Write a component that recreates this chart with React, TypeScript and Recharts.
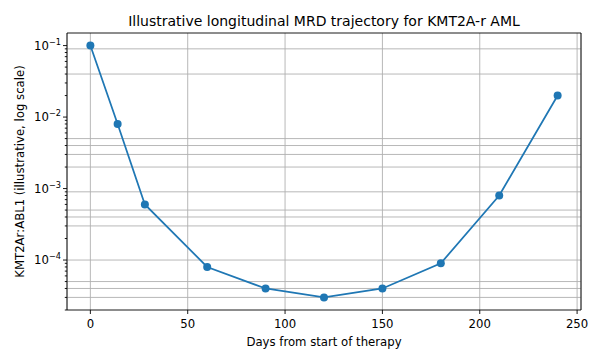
import React from "react";
import {
  LineChart,
  Line,
  XAxis,
  YAxis,
  CartesianGrid,
  ReferenceLine,
  Label,
} from "recharts";

const days = [0, 14, 28, 60, 90, 120, 150, 180, 210, 240];
const mrdValues = [0.1, 0.008, 0.0006, 0.00008, 0.00004, 0.00003, 0.00004, 0.00009, 0.0008, 0.02];
const xTicks = [0, 50, 100, 150, 200, 250];
const yMajorTicks = [0.0001, 0.001, 0.01, 0.1];
const yMinorTicks = [
  0.00002, 0.00003, 0.00004, 0.00005, 0.00006, 0.00007, 0.00008, 0.00009,
  0.0002, 0.0003, 0.0004, 0.0005, 0.0006, 0.0007, 0.0008, 0.0009,
  0.002, 0.003, 0.004, 0.005, 0.006, 0.007, 0.008, 0.009,
  0.02, 0.03, 0.04, 0.05, 0.06, 0.07, 0.08, 0.09,
];
const yGridValues = [
  0.09, 0.04, 0.005, 0.004, 0.003, 0.002, 0.0009, 0.0005, 0.0004, 0.0003,
  0.0001, 0.00005, 0.00004, 0.00003,
];
const xDomain = [-12, 252];
const yDomain = [0.00002, 0.15];

const title = "Illustrative longitudinal MRD trajectory for KMT2A-r AML";
const xLabel = "Days from start of therapy";
const yLabel = "KMT2Ar:ABL1 (illustrative, log scale)";

const data = days.map((d, i) => ({ day: d, mrd: mrdValues[i] }));
const allYTicks = [...yMajorTicks, ...yMinorTicks].sort((a, b) => a - b);

const FONT = "'DejaVu Sans', sans-serif";
const BLUE = "#1f77b4";
const GRID = "#b0b0b0";
const CHART_W = 602;
const MARGIN_RIGHT = 21;
const Y_AXIS_W = 67;

const isMajor = (v: number) => yMajorTicks.some((m) => Math.abs(m - v) / m < 1e-9);

const YTick = (props: any) => {
  const { x, y, payload } = props;
  const v = payload.value as number;
  const major = isMajor(v);
  const len = major ? 4 : 2.2;
  const exp = Math.round(Math.log10(v));
  return (
    <g>
      <line x1={x - len} x2={x} y1={y} y2={y} stroke="#000" strokeWidth={0.9} />
      {major && (
        <text
          x={x - 6}
          y={y + 4.2}
          textAnchor="end"
          fontFamily={FONT}
          fontSize={11.7}
          fill="#000"
        >
          10
          <tspan dy={-4.8} fontSize={8.2}>
            {"\u2212" + Math.abs(exp)}
          </tspan>
        </text>
      )}
    </g>
  );
};

export default function App() {
  return (
    <div style={{ position: "absolute", left: 0, top: 0, width: 602, height: 361, background: "#fff" }}>
      <LineChart
        width={CHART_W}
        height={361}
        data={data}
        margin={{ top: 33, right: MARGIN_RIGHT, bottom: 0, left: 0 }}
      >
        <CartesianGrid
          horizontal={false}
          vertical={true}
          stroke={GRID}
          strokeWidth={0.9}
        />
        <XAxis
          dataKey="day"
          type="number"
          domain={xDomain}
          ticks={xTicks}
          interval={0}
          allowDataOverflow
          height={51}
          tickSize={4}
          tickMargin={6}
          stroke="#000"
          axisLine={{ stroke: "#000", strokeWidth: 0.9 }}
          tickLine={{ stroke: "#000", strokeWidth: 0.9 }}
          tick={{ fill: "#000", fontSize: 11.7, fontFamily: FONT }}
        >
          <Label
            content={(p: any) => {
              const vb = p.viewBox;
              return (
                <text
                  x={vb.x + vb.width / 2}
                  y={vb.y + 36}
                  textAnchor="middle"
                  fontFamily={FONT}
                  fontSize={11.7}
                  fill="#000"
                >
                  {xLabel}
                </text>
              );
            }}
          />
        </XAxis>
        <YAxis
          dataKey="mrd"
          type="number"
          scale="log"
          domain={yDomain}
          allowDataOverflow
          ticks={allYTicks}
          interval={0}
          width={Y_AXIS_W}
          tickSize={0}
          tickMargin={0}
          tickLine={false}
          axisLine={{ stroke: "#000", strokeWidth: 0.9 }}
          tick={(p: any) => <YTick {...p} />}
        >
          <Label
            content={(p: any) => {
              const vb = p.viewBox;
              const cx = vb.x + 20;
              const cy = vb.y + vb.height / 2;
              const plotLeft = vb.x + vb.width;
              const plotRight = CHART_W - MARGIN_RIGHT;
              return (
                <g>
                  <text
                    x={cx}
                    y={cy}
                    transform={`rotate(-90 ${cx} ${cy})`}
                    textAnchor="middle"
                    dominantBaseline="central"
                    fontFamily={FONT}
                    fontSize={11.7}
                    fill="#000"
                  >
                    {yLabel}
                  </text>
                  <text
                    x={(plotLeft + plotRight) / 2}
                    y={vb.y - 7}
                    textAnchor="middle"
                    fontFamily={FONT}
                    fontSize={14}
                    fill="#000"
                  >
                    {title}
                  </text>
                </g>
              );
            }}
          />
        </YAxis>
        {yGridValues.map((v) => (
          <ReferenceLine key={v} y={v} stroke={GRID} strokeWidth={0.9} />
        ))}
        <ReferenceLine y={yDomain[1]} stroke="#000" strokeWidth={0.9} />
        <ReferenceLine x={xDomain[1]} stroke="#000" strokeWidth={0.9} />
        <Line
          type="linear"
          dataKey="mrd"
          stroke={BLUE}
          strokeWidth={1.75}
          dot={{ r: 4, fill: BLUE, stroke: BLUE, strokeWidth: 0 }}
          activeDot={false}
          isAnimationActive={false}
        />
      </LineChart>
    </div>
  );
}
